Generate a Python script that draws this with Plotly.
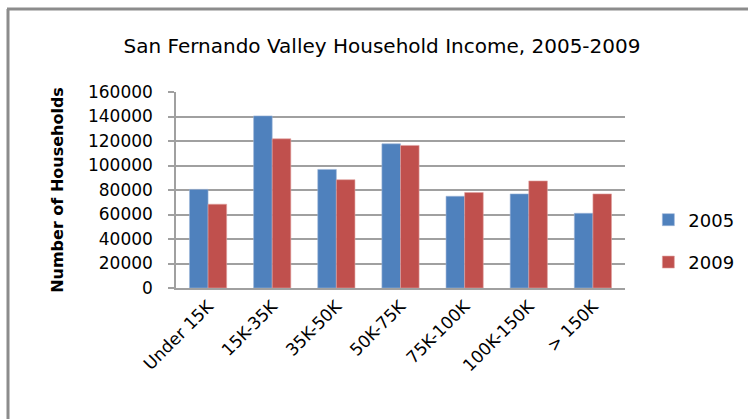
import plotly.graph_objects as go

categories = ["Under 15K", "15K-35K", "35K-50K", "50K-75K", "75K-100K", "100K-150K", "> 150K"]
households_2005 = [80500, 140500, 96800, 117700, 74900, 76800, 61000]
households_2009 = [68400, 121800, 88400, 116400, 77900, 87400, 76800]
y_ticks = [0, 20000, 40000, 60000, 80000, 100000, 120000, 140000, 160000]

FONT = "DejaVu Sans"
GRID = "#a0a0a0"

fig = go.Figure()
fig.add_trace(go.Bar(x=categories, y=households_2005, name="2005", legendgroup="a",
                     marker=dict(color="#4F81BD", line=dict(color="#9db6d9", width=0.6))))
fig.add_trace(go.Bar(x=categories, y=households_2009, name="2009", legendgroup="b",
                     marker=dict(color="#C0504D", line=dict(color="#e0a3a1", width=0.6))))

fig.update_layout(
    width=748, height=419,
    margin=dict(l=176, r=123, t=92, b=131, autoexpand=False),
    paper_bgcolor="white", plot_bgcolor="white",
    font=dict(family=FONT, color="black"),
    barmode="group", bargap=0.42, bargroupgap=0,
    title=dict(text="San Fernando Valley Household Income, 2005-2009",
               x=382 / 748, xanchor="center", y=1 - 46 / 419, yanchor="middle",
               xref="container", yref="container", font=dict(size=20, family=FONT)),
    legend=dict(x=1.052, y=0.24, xanchor="left", yanchor="middle", font=dict(size=18),
                tracegroupgap=16, bgcolor="rgba(0,0,0,0)"),
    showlegend=True,
)
fig.update_yaxes(range=[0, 160000], tickvals=y_ticks, ticktext=[str(v) for v in y_ticks],
                 showgrid=True, gridcolor=GRID, gridwidth=1.5,
                 showline=True, linecolor=GRID, linewidth=1.5,
                 ticks="outside", ticklen=6, tickcolor=GRID, tickwidth=1.5,
                 tickfont=dict(size=17), ticklabelstandoff=12,
                 title=dict(text="<b>Number of Households</b>", font=dict(size=16), standoff=20),
                 zeroline=False)
fig.update_xaxes(showline=True, linecolor=GRID, linewidth=1.5, ticks="",
                 tickangle=-45, tickfont=dict(size=17), showgrid=False)

# outer chart border (gray frame cut off at right and bottom)
fig.add_shape(type="line", xref="paper", yref="paper",
              x0=(7 - 176) / 449, x1=(760 - 176) / 449, y0=(288 - 9) / 196, y1=(288 - 9) / 196,
              line=dict(color="#8c8c8c", width=3))
fig.add_shape(type="line", xref="paper", yref="paper",
              x0=(8 - 176) / 449, x1=(8 - 176) / 449, y0=(288 - 9) / 196, y1=(288 - 430) / 196,
              line=dict(color="#8c8c8c", width=3))

fig.write_html("out.html", config={"displayModeBar": False},
               post_script="document.body.style.margin='0';")
